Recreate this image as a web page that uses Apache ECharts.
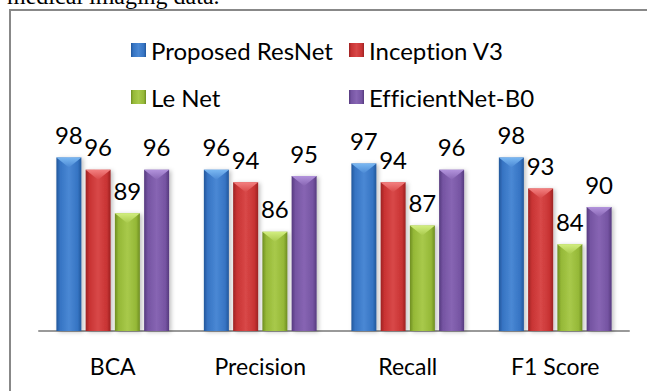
<!DOCTYPE html>
<html>
<head>
<meta charset="utf-8">
<style>
  html, body { margin: 0; padding: 0; background: #fff; }
  #chart { width: 647px; height: 391px; }
  #chart text { font-variant-ligatures: none; font-feature-settings: "liga" 0, "clig" 0; }
</style>
<script src="https://cdn.jsdelivr.net/npm/echarts@6/dist/echarts.min.js"></script>
</head>
<body>
<div id="chart"></div>
<script>
// Metric categories along the x axis
const categories = ['BCA', 'Precision', 'Recall', 'F1 Score'];

// Scores (%) per model
const resnetScores = [98, 96, 97, 98];
const inceptionScores = [96, 94, 94, 93];
const lenetScores = [89, 86, 87, 84];
const efficientScores = [96, 95, 96, 90];

const modelNames = ['Proposed ResNet', 'Inception V3', 'Le Net', 'EfficientNet-B0'];

// Value axis range
const valueMin = 70;
const valueMax = 100;

// Palette: [edge, body, highlight, cap]
const palettes = [
  ['#22579b', '#3674c3', '#4a88d4', '#7ab8f2'],
  ['#9c2323', '#c83333', '#d84848', '#f38080'],
  ['#6e8d22', '#95b837', '#a8c94b', '#d2ee80'],
  ['#553a7e', '#7554a2', '#8765b3', '#b293dc']
];

function bodyGradient(p) {
  return new echarts.graphic.LinearGradient(0, 0, 1, 0, [
    { offset: 0, color: p[0] },
    { offset: 0.15, color: p[1] },
    { offset: 0.5, color: p[2] },
    { offset: 0.85, color: p[1] },
    { offset: 1, color: p[0] }
  ]);
}

function capGradient(p) {
  return new echarts.graphic.LinearGradient(0, 0, 0, 1, [
    { offset: 0, color: p[3] },
    { offset: 1, color: p[2] }
  ]);
}

const seriesData = [resnetScores, inceptionScores, lenetScores, efficientScores];
const BAR_W = 25;
const BAR_GAP = '17%';
const FONT = 'Lato, "Open Sans", sans-serif';

const series = [];
seriesData.forEach((vals, i) => {
  series.push({
    name: modelNames[i],
    type: 'bar',
    data: vals,
    barWidth: BAR_W,
    barGap: BAR_GAP,
    itemStyle: {
      color: bodyGradient(palettes[i]),
      shadowColor: 'rgba(0,0,0,0.25)',
      shadowBlur: 4,
      shadowOffsetX: 2,
      shadowOffsetY: 1
    },
    label: {
      show: true,
      position: 'top',
      distance: 11,
      fontFamily: FONT,
      fontSize: 24,
      color: '#000'
    },
    z: 2
  });
});
// Bevelled tops drawn as triangles inside the end of each bar
seriesData.forEach((vals, i) => {
  series.push({
    name: modelNames[i] + ' top',
    type: 'pictorialBar',
    data: vals,
    barWidth: BAR_W,
    barGap: BAR_GAP,
    symbol: 'path://M0,0 L10,0 L5,4 Z',
    symbolSize: [BAR_W, 10],
    symbolPosition: 'end',
    symbolRepeat: false,
    itemStyle: { color: capGradient(palettes[i]) },
    silent: true,
    z: 3
  });
});

const chart = echarts.init(document.getElementById('chart'), null, { renderer: 'svg' });

const legendText = { fontFamily: FONT, fontSize: 24, color: '#000' };

chart.setOption({
  animation: false,
  backgroundColor: '#fff',
  graphic: [
    {
      type: 'text',
      left: 7,
      top: -16,
      style: {
        text: 'medical imaging data.',
        font: '24px "Liberation Serif", "Times New Roman", serif',
        fill: '#000'
      },
      z: 10
    },
    {
      type: 'rect',
      shape: { x: 10, y: 10, width: 700, height: 500 },
      style: { fill: 'none', stroke: '#888', lineWidth: 2 },
      z: 10
    }
  ],
  legend: [
    {
      data: [modelNames[0], modelNames[2]],
      orient: 'vertical',
      left: 126,
      top: 33,
      itemWidth: 15,
      itemHeight: 14,
      itemGap: 23,
      icon: 'rect',
      textStyle: legendText
    },
    {
      data: [modelNames[1], modelNames[3]],
      orient: 'vertical',
      left: 344,
      top: 33,
      itemWidth: 15,
      itemHeight: 14,
      itemGap: 23,
      icon: 'rect',
      textStyle: legendText
    }
  ],
  grid: {
    left: 39,
    right: 18,
    top: 145,
    bottom: 60,
    containLabel: false
  },
  xAxis: {
    type: 'category',
    data: categories,
    axisLine: { show: true, lineStyle: { color: '#999', width: 2 } },
    axisTick: { show: false },
    axisLabel: {
      fontFamily: FONT,
      fontSize: 23,
      color: '#000',
      margin: 23
    }
  },
  yAxis: {
    type: 'value',
    min: valueMin,
    max: valueMax,
    show: false,
    splitLine: { show: false }
  },
  series: series
});
</script>
</body>
</html>
